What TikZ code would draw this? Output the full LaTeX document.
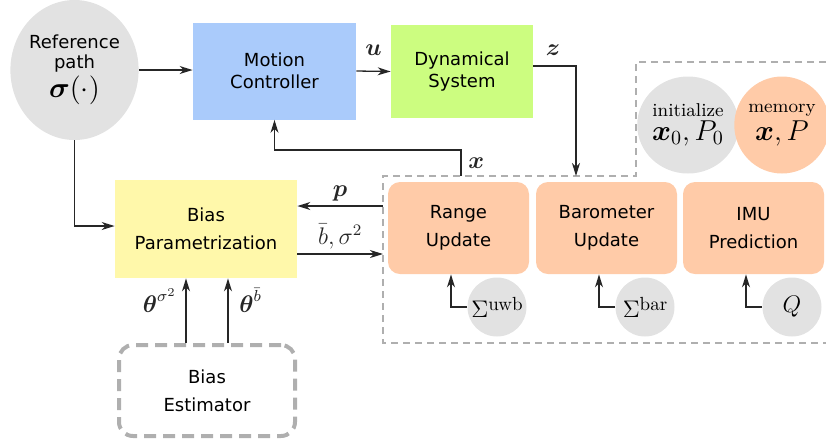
\documentclass[tikz,border=0pt]{standalone}
\usepackage{amsmath}
\usepackage{fontspec}
\setsansfont{DejaVu Sans}
\usepackage{tikz}
\usetikzlibrary{positioning, calc, arrows.meta, shapes.geometric}
\definecolor{refgray}   {HTML}{E2E2E2}
\definecolor{ctrlblue}  {HTML}{AACBFB}
\definecolor{sysgreen}  {HTML}{CCFD80}
\definecolor{biasyellow}{HTML}{FFF8AA}
\definecolor{filtpeach} {HTML}{FFCBA8}
\definecolor{zonegray}  {HTML}{AFAFAF}
\newcommand{\covsym}[2]{$#1$\raisebox{3.5pt}{\fontsize{9.5}{11}\selectfont #2}}

\begin{document}
\begin{tikzpicture}[x=0.5pt, y=-0.5pt,
    block/.style={rectangle, inner sep=0pt, align=center,
                  font=\sffamily\fontsize{9}{11}\selectfont},
    airy/.style={font=\sffamily\fontsize{9}{14}\selectfont},
    filter/.style={block, airy, fill=filtpeach, rounded corners=6pt,
                   minimum width=70.5pt, minimum height=46pt},
    cov/.style={circle, fill=refgray, inner sep=0pt, minimum size=29.5pt,
                font=\fontsize{12}{14}\selectfont},
    blob/.style={ellipse, inner sep=0pt, align=center,
                 minimum width=44pt, minimum height=48.5pt,
                 font=\fontsize{9.3}{11}\selectfont},
    arr/.style={-{Stealth[length=6.5pt, width=4pt, inset=2pt]},
                line width=0.65pt, black!85},
    lbl/.style={font=\fontsize{12}{14}\selectfont},
    zone/.style={draw=zonegray, line width=0.75pt, dash pattern=on 3.5pt off 2.5pt}]
  \useasboundingbox (0,0) rectangle (826,447);

  \draw[zone] (826,62) -- (636,62) -- (636,176) -- (383,176) -- (383,343) -- (826,343);

  \node[block, ellipse, fill=refgray, minimum width=63.5pt, minimum height=70pt,
        font=\sffamily\fontsize{9}{10}\selectfont]
    (ref) at (74.5,70)
    {Reference\\path\\[1pt]{\fontsize{14.4}{16}\selectfont$\boldsymbol{\sigma}(\cdot)$}};
  \node[block, fill=ctrlblue, minimum width=81.5pt, minimum height=48.5pt]
    (mc) at (274.5,71) {Motion\\Controller};
  \node[block, fill=sysgreen, minimum width=71pt, minimum height=46.5pt]
    (ds) at (462,71.5) {Dynamical\\System};
  \node[block, airy, fill=biasyellow, minimum width=91pt, minimum height=49pt]
    (bp) at (206,229) {Bias\\Parametrization};
  \node[block, airy, draw=zonegray, line width=2pt, dash pattern=on 6pt off 3.5pt,
        rounded corners=7pt, minimum width=88pt, minimum height=45.5pt]
    (be) at (207,390.5) {Bias\\Estimator};

  \node[blob, fill=refgray] (init) at (688,125)
    {initialize\\[1pt]{\fontsize{14}{15}\selectfont$\boldsymbol{x}_0, P_0$}};
  \node[blob, fill=filtpeach] (mem) at (782,125)
    {memory\\[1pt]{\fontsize{14}{15}\selectfont$\boldsymbol{x}, P$}};

  \foreach \n/\cx/\lbl/\cv in {rng/458.5/{Range\\Update}/{\covsym{\Sigma}{uwb}},
      baro/606.5/{Barometer\\Update}/{\covsym{\Sigma}{bar}},
      imu/753.5/{IMU\\Prediction}/{$Q$}}
  {
    \node[filter] (\n) at (\cx,228) {\lbl};
    \node[cov] (cov\n) at (\cx+38.5,307) {\cv};
    \draw[arr] (cov\n.west) -| ([xshift=-3.75pt]\n.south);
  }

  \coordinate (zin)  at (576,176);
  \coordinate (xout) at (461,176);
  \coordinate (pout) at (383,206);
  \coordinate (bin)  at (383,254);

  \draw[arr] (ref.east) -- (mc.west |- ref.east);
  \draw[arr] (mc.east) -- (ds.west)
    node[lbl, midway, above=4pt] (ulbl) {$\boldsymbol{u}$};
  \draw[arr] ([yshift=2.75pt]ds.east) -| (zin)
    node[lbl, pos=0.23, above=1.5pt] (zlbl) {$\boldsymbol{z}$};
  \draw[arr] (xout) -- ++(0,-26)
    node[lbl, midway, right] (xlbl) {$\boldsymbol{x}$} -| (mc.south);
  \draw[arr] (ref.south) |- ([yshift=1.5pt]bp.west);
  \draw[arr] (pout) -- (pout -| bp.east)
    node[lbl, midway, above=-1pt] (plbl) {$\boldsymbol{p}$};
  \draw[arr] (bin -| bp.east) -- (bin)
    node[lbl, midway, above=-1pt] (blbl) {$\bar{b}, \sigma^2$};
  \draw[arr] ([xshift=-10.5pt]be.north) -- ([xshift=-10.5pt]be.north |- bp.south)
    node[lbl, pos=0.66, left=1pt] (tslbl) {$\boldsymbol{\theta}^{\sigma^2}$};
  \draw[arr] ([xshift=10.5pt]be.north) -- ([xshift=10.5pt]be.north |- bp.south)
    node[lbl, pos=0.66, right=2pt] (tblbl) {$\boldsymbol{\theta}^{\bar{b}}$};
\end{tikzpicture}
\end{document}
